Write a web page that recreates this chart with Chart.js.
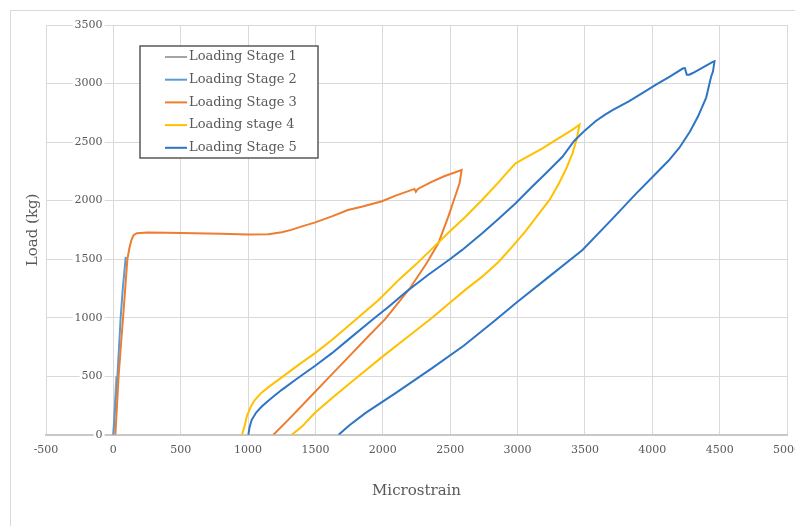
<!DOCTYPE html>
<html>
<head>
<meta charset="utf-8">
<script src="https://cdn.jsdelivr.net/npm/chart.js@4/dist/chart.umd.min.js"></script>
<style>
  html, body { margin: 0; padding: 0; background: #fff; overflow: hidden; }
  #frame { position: absolute; left: 10px; top: 10px; width: 820px; height: 560px; border: 1px solid #d9d9d9; }
  #wrap { position: absolute; left: 0; top: 0; width: 810px; height: 526px; }
</style>
</head>
<body>
<div id="frame"></div>
<div id="wrap"><canvas id="chart"></canvas></div>
<script>
const seriesLabels = ["Loading Stage 1", "Loading Stage 2", "Loading Stage 3", "Loading stage 4", "Loading Stage 5"];
const seriesColors = ["#a5a5a5", "#5b9bd5", "#ed7d31", "#ffc000", "#2e75c6"];

const strainTicks = [-500, 5000, 500];
const loadTicks = [0, 3500, 500];

const stage1Strain = [0, 10, 22];
const stage1Load = [0, 230, 500];

const stage2Strain = [0, 14, 30, 42, 54, 70, 92];
const stage2Load = [0, 250, 500, 750, 1000, 1250, 1520];

const stage3Strain = [15, 27, 39, 55, 72, 88, 104, 120, 134, 150,
  175, 250, 400, 600, 800, 1000, 1150, 1250, 1320, 1400,
  1493, 1622, 1741, 1850, 1994, 2100, 2200, 2235, 2245, 2260,
  2362, 2460, 2585, 2570, 2536, 2486, 2412, 2325, 2200, 2019,
  1900, 1750, 1600, 1450, 1300, 1188];
const stage3Load = [0, 250, 500, 750, 1000, 1250, 1500, 1600, 1664, 1705,
  1722, 1728, 1725, 1722, 1718, 1710, 1712, 1730, 1750, 1780,
  1812, 1865, 1920, 1950, 1995, 2045, 2085, 2100, 2075, 2100,
  2160, 2210, 2262, 2150, 2033, 1863, 1636, 1465, 1250, 990,
  850, 670, 490, 310, 130, 0];

const stage4Strain = [955, 975, 990, 1020, 1051, 1100, 1151, 1250, 1374, 1500,
  1622, 1800, 1969, 2118, 2250, 2366, 2500, 2614, 2740, 2862,
  2930, 2986, 3050, 3185, 3300, 3400, 3460,
  3440, 3408, 3360, 3308, 3240, 3160, 3060, 2961, 2862, 2738,
  2614, 2500, 2366, 2200, 2000, 1808, 1650, 1498, 1400, 1324];
const stage4Load = [0, 80, 156, 240, 299, 360, 407, 490, 597, 700,
  810, 985, 1152, 1323, 1460, 1590, 1740, 1863, 2010, 2160,
  2250, 2318, 2360, 2446, 2530, 2600, 2648,
  2530, 2404, 2270, 2148, 2010, 1892, 1740, 1607, 1480, 1351,
  1240, 1130, 1000, 850, 670, 490, 340, 190, 70, 0];

const stage5Strain = [1002, 1010, 1027, 1060, 1101, 1170, 1250, 1370, 1498, 1620,
  1746, 1920, 2050, 2167, 2330, 2490, 2589, 2738, 2860, 2986,
  3100, 3220, 3333, 3420, 3500, 3581, 3650, 3705, 3829, 3929,
  4028, 4130, 4226, 4242, 4256, 4275, 4301, 4380, 4449, 4462,
  4450, 4437, 4400, 4340, 4280, 4200, 4120, 4000, 3880, 3700,
  3482, 3234, 2986, 2837, 2600, 2366, 2100, 1870, 1750, 1672];
const stage5Load = [0, 60, 128, 190, 242, 310, 384, 485, 590, 695,
  815, 981, 1100, 1215, 1360, 1493, 1579, 1721, 1845, 1977,
  2110, 2245, 2375, 2510, 2600, 2680, 2735, 2773, 2850, 2920,
  2990, 3060, 3128, 3132, 3075, 3075, 3090, 3140, 3185, 3190,
  3100, 3060, 2880, 2720, 2590, 2450, 2340, 2200, 2060, 1840,
  1579, 1351, 1124, 981, 760, 569, 360, 185, 80, 0];

const strains = [stage1Strain, stage2Strain, stage3Strain, stage4Strain, stage5Strain];
const loads = [stage1Load, stage2Load, stage3Load, stage4Load, stage5Load];

const textColor = "#595959";
const serif = "'DejaVu Serif', serif";

Chart.defaults.font.family = serif;
Chart.defaults.color = textColor;

// legend drawn as a framed box inside the plot, like the original
const boxLegend = {
  id: "boxLegend",
  afterDatasetsDraw(chart) {
    const { ctx, chartArea } = chart;
    const left = chartArea.left + 94;
    const top = chartArea.top + 21;
    const w = 178;
    const h = 112;
    ctx.save();
    ctx.fillStyle = "#fff";
    ctx.fillRect(left, top, w, h);
    ctx.strokeStyle = "#595959";
    ctx.lineWidth = 1.5;
    ctx.strokeRect(left, top, w, h);
    ctx.font = "13px " + serif;
    ctx.textBaseline = "middle";
    chart.data.datasets.forEach((ds, i) => {
      const y = top + 11 + i * 22.7;
      ctx.strokeStyle = ds.borderColor;
      ctx.lineWidth = 2;
      ctx.beginPath();
      ctx.moveTo(left + 25, y);
      ctx.lineTo(left + 47, y);
      ctx.stroke();
      ctx.fillStyle = textColor;
      ctx.fillText(ds.label, left + 49, y);
    });
    ctx.restore();
  }
};

const datasets = seriesLabels.map((label, i) => ({
  label,
  data: strains[i].map((x, j) => ({ x, y: loads[i][j] })),
  borderColor: seriesColors[i],
  backgroundColor: seriesColors[i],
  borderWidth: 2,
  pointRadius: 0,
  showLine: true,
  tension: 0,
  order: seriesLabels.length - i
}));

new Chart(document.querySelector("#chart"), {
  type: "scatter",
  data: { datasets },
  plugins: [boxLegend],
  options: {
    responsive: true,
    maintainAspectRatio: false,
    animation: false,
    devicePixelRatio: 1,
    layout: { padding: { left: 20, top: 25, right: 0, bottom: 22 } },
    plugins: { legend: { display: false }, tooltip: { enabled: false } },
    scales: {
      x: {
        type: "linear",
        position: "bottom",
        min: strainTicks[0],
        max: strainTicks[1],
        ticks: {
          stepSize: strainTicks[2], padding: 9, font: { size: 11 }, color: textColor,
          format: { useGrouping: false }
        },
        grid: { color: "#d9d9d9", drawTicks: false },
        border: { color: "#c8c8c8", width: 2 },
        title: { display: true, text: "Microstrain", font: { size: 15 }, color: textColor, padding: { top: 16, bottom: 4 } }
      },
      y: {
        type: "linear",
        // labels sit just left of the zero-strain line, as in the Excel original
        position: { x: -80 },
        min: loadTicks[0],
        max: loadTicks[1],
        ticks: {
          stepSize: loadTicks[2], font: { size: 11 }, color: textColor,
          format: { useGrouping: false },
          showLabelBackdrop: true, backdropColor: "#fff", backdropPadding: 2
        },
        grid: { color: "#d9d9d9", drawTicks: false },
        border: { display: false }
      },
      yTitle: {
        axis: "y",
        type: "linear",
        position: "left",
        display: true,
        ticks: { display: false },
        grid: { display: false, drawTicks: false },
        border: { display: false },
        title: { display: true, text: "Load (kg)", font: { size: 15 }, color: textColor, padding: { top: 4, bottom: 4 } }
      }
    }
  }
});
</script>
</body>
</html>
